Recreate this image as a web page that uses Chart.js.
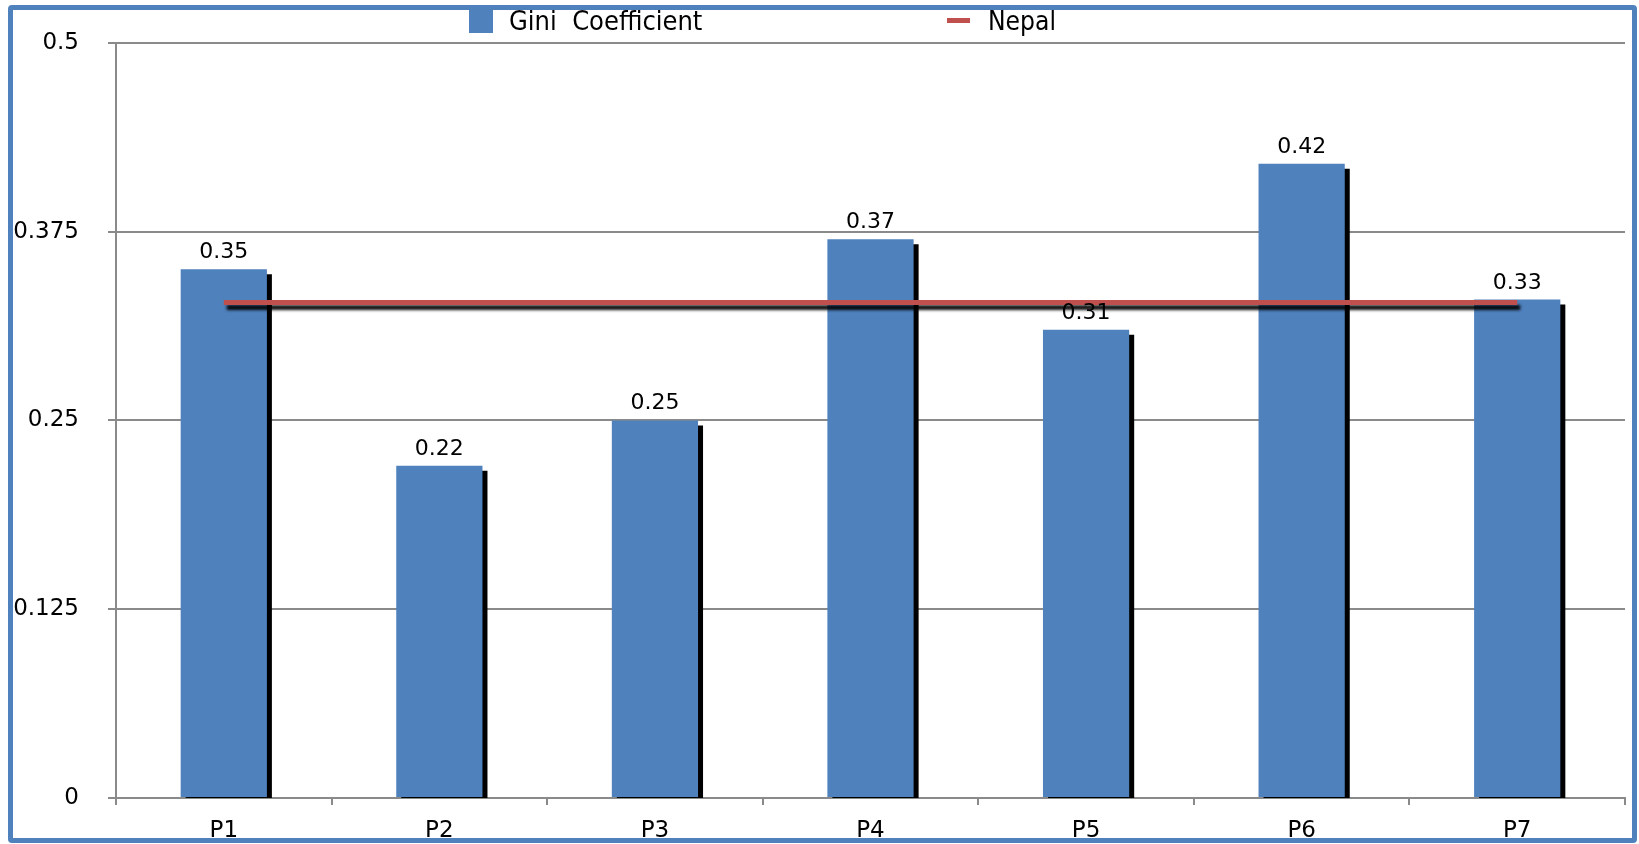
<!DOCTYPE html>
<html><head><meta charset="utf-8">
<script src="https://cdn.jsdelivr.net/npm/chart.js@4/dist/chart.umd.min.js"></script>
<style>
html,body{margin:0;padding:0;background:#fff;overflow:hidden}
#wrap{position:absolute;left:0;top:0;width:1639px;height:844px}
#c{position:absolute;left:0;top:0}
#frame{position:absolute;left:8px;top:5px;width:1619px;height:828px;border:5px solid #4F81BD;border-radius:4px;pointer-events:none}
</style></head>
<body>
<div id="wrap"><canvas id="c" width="1639" height="844"></canvas><div id="frame"></div></div>
<script>
const categories = ['P1', 'P2', 'P3', 'P4', 'P5', 'P6', 'P7'];
const giniValues = [0.35, 0.22, 0.25, 0.37, 0.31, 0.42, 0.33];
const nepalValues = [0.328, 0.328, 0.328, 0.328, 0.328, 0.328, 0.328];
const yTickValues = [0, 0.125, 0.25, 0.375, 0.5];
const yTickLabels = ['0', '0.125', '0.25', '0.375', '0.5'];
const seriesNames = ['Gini  Coefficient', 'Nepal'];

const BLUE = '#4F81BD', RED = '#C0504D', GRID = '#8a8a8a';
const TICK_FONT = '"DejaVu Sans", sans-serif';
const LEGEND_FONT = '"DejaVu Sans Condensed", "DejaVu Sans", sans-serif';

const shadowPlugin = {
  id: 'shadows',
  beforeDatasetDraw(chart, args) {
    const ctx = chart.ctx;
    ctx.save();
    if (args.meta.type === 'bar') {
      ctx.shadowColor = '#000';
      ctx.shadowOffsetX = 5;
      ctx.shadowOffsetY = 5;
      ctx.shadowBlur = 0;
    } else {
      ctx.shadowColor = 'rgba(0,0,0,0.95)';
      ctx.shadowOffsetX = 3;
      ctx.shadowOffsetY = 5;
      ctx.shadowBlur = 3;
    }
  },
  afterDatasetDraw(chart) { chart.ctx.restore(); }
};

const labelPlugin = {
  id: 'barLabels',
  afterDatasetsDraw(chart) {
    const ctx = chart.ctx;
    const meta = chart.getDatasetMeta(0);
    ctx.save();
    ctx.font = '22px ' + TICK_FONT;
    ctx.fillStyle = '#000';
    ctx.textAlign = 'center';
    ctx.textBaseline = 'alphabetic';
    meta.data.forEach((bar, i) => {
      ctx.fillText(String(chart.data.datasets[0].data[i]), bar.x, bar.y - 11);
    });
    ctx.restore();
  }
};

const legendPlugin = {
  id: 'customLegend',
  afterDraw(chart) {
    const ctx = chart.ctx;
    ctx.save();
    ctx.fillStyle = BLUE;
    ctx.fillRect(469, 10, 24, 23);
    ctx.strokeStyle = RED;
    ctx.lineWidth = 5;
    ctx.beginPath(); ctx.moveTo(947, 20.5); ctx.lineTo(970, 20.5); ctx.stroke();
    ctx.fillStyle = '#000';
    ctx.font = '27px ' + LEGEND_FONT;
    ctx.textBaseline = 'alphabetic';
    ctx.textAlign = 'left';
    ctx.fillText(chart.data.datasets[0].label, 509, 30, 195);
    ctx.fillText(chart.data.datasets[1].label, 988, 30, 68);
    ctx.restore();
  }
};

new Chart(document.getElementById('c'), {
  data: {
    labels: categories,
    datasets: [
      { type: 'bar', label: seriesNames[0], data: giniValues, backgroundColor: BLUE,
        barPercentage: 0.4, categoryPercentage: 1, order: 2 },
      { type: 'line', label: seriesNames[1], data: nepalValues, borderColor: RED,
        borderWidth: 5, pointRadius: 0, fill: false, tension: 0, order: 1 }
    ]
  },
  options: {
    responsive: false,
    animation: false,
    devicePixelRatio: 1,
    layout: { padding: { top: 38, right: 14, bottom: 0, left: 0 } },
    plugins: { legend: { display: false }, tooltip: { enabled: false } },
    scales: {
      x: {
        grid: { offset: true, drawOnChartArea: false, drawTicks: true, tickLength: 7, color: GRID, lineWidth: 2 },
        border: { color: GRID, width: 2 },
        ticks: { color: '#000', font: { family: TICK_FONT, size: 23 }, padding: 12, maxRotation: 0 },
        afterFit(scale) { scale.height = 46; }
      },
      y: {
        min: 0, max: 0.5,
        grid: { color: GRID, lineWidth: 2, tickLength: 8 },
        border: { color: GRID, width: 2 },
        afterBuildTicks(scale) { scale.ticks = yTickValues.map(v => ({ value: v })); },
        ticks: { color: '#000', font: { family: TICK_FONT, size: 23 }, padding: 29,
          callback: (v, i) => yTickLabels[i] },
        afterFit(scale) { scale.width = 116; }
      }
    }
  },
  plugins: [shadowPlugin, labelPlugin, legendPlugin]
});
</script>
</body></html>
